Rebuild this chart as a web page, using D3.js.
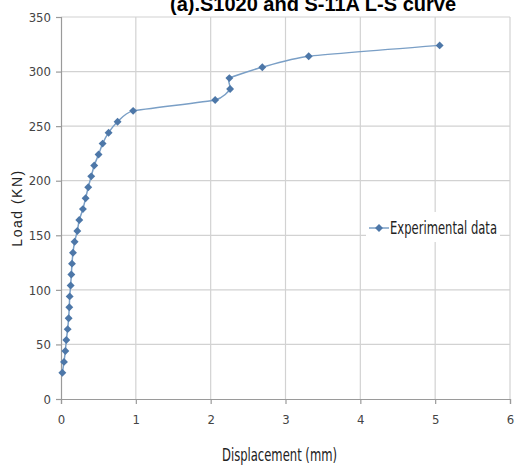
<!DOCTYPE html>
<html>
<head>
<meta charset="utf-8">
<script src="https://cdn.jsdelivr.net/npm/d3@7"></script>
<style>
  body { margin: 0; background: #fff; }
  svg { display: block; }
</style>
</head>
<body>
<svg id="chart"></svg>
<script>
// values
var displacement = [0.018, 0.04, 0.058, 0.071, 0.089, 0.102, 0.111, 0.116, 0.129, 0.138,
                    0.147, 0.16, 0.182, 0.218, 0.244, 0.293, 0.329, 0.364, 0.404, 0.444,
                    0.502, 0.556, 0.636, 0.756, 0.964, 2.06, 2.26, 2.25, 2.69, 3.31, 5.06]
var load = [24, 34, 44, 54, 64, 74, 84, 94, 104, 114,
            124, 134, 144, 154, 164, 174, 184, 194, 204, 214,
            224, 234, 244, 254, 264, 274, 284, 294, 304, 314, 324]
var xTicks = [0, 1, 2, 3, 4, 5, 6]
var yTicks = [0, 50, 100, 150, 200, 250, 300, 350]
var seriesName = "Experimental data"
var title = "(a).S1020 and S-11A L-S curve"

var dataset = displacement.map((d, i) => ({x: d, y: load[i]}))

var dimensions = {
    width: 516,
    height: 468,
    margin: {
        top: 17,
        bottom: 69,
        left: 61,
        right: 6
    }
}

var svg = d3.select("#chart")
            .attr("width", dimensions.width)
            .attr("height", dimensions.height)

var xScale = d3.scaleLinear()
               .domain([0, 6])
               .range([dimensions.margin.left, dimensions.width - dimensions.margin.right])
var yScale = d3.scaleLinear()
               .domain([0, 350])
               .range([dimensions.height - dimensions.margin.bottom, dimensions.margin.top])

var labelFont = "'Liberation Sans Narrow', 'DejaVu Sans Condensed', sans-serif"

// grid
svg.append("g")
   .selectAll("line")
   .data(yTicks.slice(1))
   .enter()
   .append("line")
   .attr("x1", xScale(0))
   .attr("x2", xScale(6))
   .attr("y1", d => yScale(d))
   .attr("y2", d => yScale(d))
   .attr("stroke", "#d2d2d2")
   .attr("stroke-width", 1.2)
svg.append("g")
   .selectAll("line")
   .data(xTicks.slice(1))
   .enter()
   .append("line")
   .attr("x1", d => xScale(d))
   .attr("x2", d => xScale(d))
   .attr("y1", yScale(0))
   .attr("y2", yScale(350))
   .attr("stroke", "#d2d2d2")
   .attr("stroke-width", 1.2)

// axes
var xAxisGen = d3.axisBottom(xScale).tickValues(xTicks).tickSize(5).tickPadding(11).tickFormat(d3.format("d"))
var xAxis = svg.append("g")
               .attr("transform", `translate(0,${yScale(0)})`)
               .call(xAxisGen)
var yAxisGen = d3.axisLeft(yScale).tickValues(yTicks).tickSize(5).tickPadding(5).tickFormat(d3.format("d"))
var yAxis = svg.append("g")
               .attr("transform", `translate(${xScale(0)},0)`)
               .call(yAxisGen)
svg.selectAll(".domain, .tick line").attr("stroke", "#9a9a9a").attr("stroke-width", 1.2)
svg.selectAll(".tick text")
   .attr("fill", "#444")
   .style("font-family", labelFont)
   .style("font-size", "13px")

// series
var lineGen = d3.line()
                .x(d => xScale(d.x))
                .y(d => yScale(d.y))
                .curve(d3.curveCardinal.tension(0.5))
svg.append("path")
   .datum(dataset)
   .attr("d", lineGen)
   .attr("fill", "none")
   .attr("stroke", "#7a9fc6")
   .attr("stroke-width", 1.5)

var diamond = d3.symbol().type(d3.symbolDiamond2).size(40)
svg.append("g")
   .selectAll("path")
   .data(dataset)
   .enter()
   .append("path")
   .attr("d", diamond)
   .attr("transform", d => `translate(${xScale(d.x)},${yScale(d.y)})`)
   .attr("fill", "#4d77a8")

// legend
var legend = svg.append("g").attr("transform", "translate(366,212)")
legend.append("rect")
      .attr("width", 134)
      .attr("height", 30)
      .attr("fill", "#fff")
legend.append("line")
      .attr("x1", 3).attr("x2", 23)
      .attr("y1", 16).attr("y2", 16)
      .attr("stroke", "#7a9fc6")
      .attr("stroke-width", 1.5)
legend.append("path")
      .attr("d", diamond)
      .attr("transform", "translate(13,16)")
      .attr("fill", "#4d77a8")
legend.append("text")
      .attr("x", 24)
      .attr("y", 22)
      .attr("textLength", 107)
      .attr("lengthAdjust", "spacingAndGlyphs")
      .text(seriesName)
      .attr("fill", "#222")
      .style("font-family", labelFont)
      .style("font-size", "17px")

// axis titles
svg.append("text")
   .attr("x", 222)
   .attr("y", 461)
   .attr("textLength", 115)
   .attr("lengthAdjust", "spacingAndGlyphs")
   .text("Displacement (mm)")
   .attr("fill", "#222")
   .style("font-family", labelFont)
   .style("font-size", "18px")
svg.append("text")
   .attr("transform", "translate(22,208) rotate(-90)")
   .attr("text-anchor", "middle")
   .text("Load (KN)")
   .attr("fill", "#222")
   .style("font-family", "'Liberation Sans', Arial, sans-serif")
   .style("font-size", "14px")
   .style("letter-spacing", "1.5px")

// title, cut off at the top like the reference
svg.append("text")
   .attr("x", 313)
   .attr("y", 11)
   .attr("text-anchor", "middle")
   .text(title)
   .attr("fill", "#000")
   .style("font-family", "'Liberation Sans', Arial, sans-serif")
   .style("font-weight", "bold")
   .style("font-size", "20px")
</script>
</body>
</html>
